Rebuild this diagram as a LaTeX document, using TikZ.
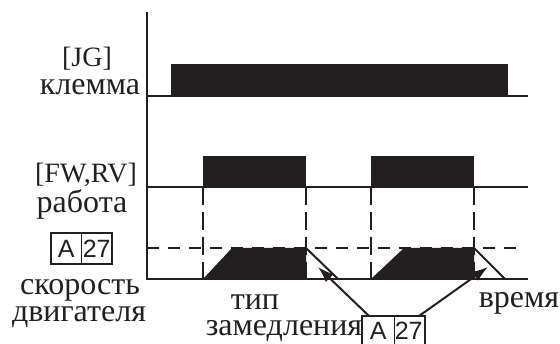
\documentclass[tikz,border=0pt]{standalone}
\usepackage{fontspec}
\setmainfont{Liberation Serif}
\newfontfamily\boxfont{Liberation Sans}
\usetikzlibrary{arrows.meta,calc}
\definecolor{ink}{RGB}{35,31,32}
\begin{document}
\begin{tikzpicture}[x=1pt,y=-1pt,
  every node/.style={text=ink,inner sep=0pt},
  lat/.style={font=\fontsize{28}{28}\selectfont,anchor=base},
  cyr/.style={font=\fontsize{32}{32}\selectfont,anchor=base},
  cell/.style={draw=ink,line width=1.8pt,minimum width=30.5pt,minimum height=31pt,font=\boxfont\fontsize{25}{25}\selectfont,inner sep=0pt},
  opencell/.style={cell,draw=none,minimum height=27pt},
  frame/.style={draw=ink,line width=1.8pt},
  sig/.style={draw=ink,line width=2pt},
  vdash/.style={draw=ink,line width=2pt,dash pattern=on 18pt off 7pt},
  hdash/.style={draw=ink,line width=2pt,dash pattern=on 12pt off 9pt},
  arr/.style={draw=ink,line width=2pt,-{Latex[length=16pt,width=11pt]}}
]
\useasboundingbox (0,0) rectangle (560,344);
% dashed guides
\foreach \x in {203,306,371,474} \draw[vdash] (\x,187) -- (\x,279);
\draw[hdash] (147,248) -- (520,248);
% pulses
\fill[ink] (171,64) rectangle (508,96);
\fill[ink] (203,156) rectangle (306,187);
\fill[ink] (371,156) rectangle (474,187);
\fill[ink] (203,279) -- (232,248) -- (306,248) -- (306,279) -- cycle;
\fill[ink] (371,279) -- (404,248) -- (474,248) -- (474,279) -- cycle;
% signal lines
\draw[sig] (147,12) -- (147,279) -- (528,279);
\draw[sig] (147,96) -- (528,96);
\draw[sig] (147,187) -- (528,187);
\draw[sig] (306,248) -- (338,279);
\draw[sig] (474,248) -- (505,279);
% labels
\node[lat] (jg) at (87,67) {[JG]};
\node[cyr] (kl) at (90,95) {клемма};
\node[lat] (fw) at (86,183) {[FW,RV]};
\node[cyr] (rab) at (82,213) {работа};
\node[cell] (lA) at (66.25,248.5) {A};
\node[cell] (l27) at (96.75,248.5) {27};
\node[cyr] (sk) at (80,295) {скорость};
\node[cyr] (dv) at (79,322) {двигателя};
\node[cyr] (tip) at (255,310) {тип};
\node[cyr] (zam) at (284,336) {замедления};
\node[cyr] (vr) at (519,308) {время};
\node[opencell] (bA) at (378.25,330.5) {A};
\node[opencell] (b27) at (408.75,330.5) {27};
\draw[frame] (bA.south west) -- (bA.north west) -- (b27.north east) -- (b27.south east);
\draw[frame] (bA.north east) -- (bA.south east);
% arrows
\coordinate (t1) at (318,267);
\coordinate (t2) at (488,267);
\draw[arr] ([xshift=7pt]bA.north west) -- (t1);
\draw[arr] ([xshift=-6pt]b27.north east) -- (t2);
\end{tikzpicture}
\end{document}
